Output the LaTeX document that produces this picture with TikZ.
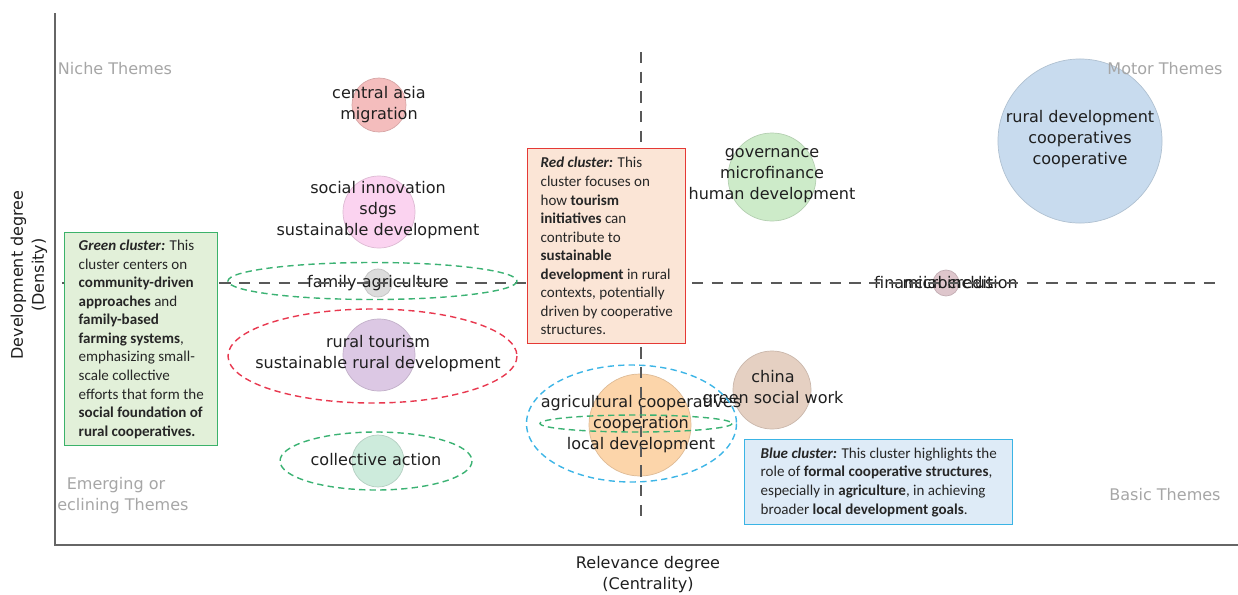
\documentclass[tikz,border=0pt]{standalone}
\usepackage{fontspec}
\setmainfont{DejaVu Sans}
\newfontfamily\notefont{Carlito}

\definecolor{bubblered}{HTML}{F4BDBD}
\definecolor{bubblepink}{HTML}{FBD3F0}
\definecolor{bubblegray}{HTML}{DCDCDC}
\definecolor{bubblepurple}{HTML}{DCC8E4}
\definecolor{bubblemint}{HTML}{CDEBDC}
\definecolor{bubblegreen}{HTML}{CDEBC9}
\definecolor{bubbleblue}{HTML}{C8DBEE}
\definecolor{bubblemauve}{HTML}{DEC6CC}
\definecolor{bubblebrown}{HTML}{E5D0C2}
\definecolor{bubbleorange}{HTML}{FCD5AA}
\definecolor{ringgreen}{HTML}{3BB273}
\definecolor{ringred}{HTML}{E8384F}
\definecolor{ringblue}{HTML}{3DB5E6}
\definecolor{greenfill}{HTML}{E2F0D9}
\definecolor{greenedge}{HTML}{3BB26A}
\definecolor{redfill}{HTML}{FBE5D6}
\definecolor{rededge}{HTML}{E53935}
\definecolor{bluefill}{HTML}{DEEBF7}
\definecolor{blueedge}{HTML}{3AB4E5}
\definecolor{quadgray}{HTML}{A6A6A6}

\tikzset{
	bubble/.style 2 args={circle,fill=#1,draw=#1!88!black,line width=0.5pt,minimum size=#2*0.05cm,inner sep=0pt},
	term/.style={align=center,font=\fontsize{11.4}{15}\selectfont,text=black!88},
	quadrant/.style={align=center,font=\fontsize{11.4}{15}\selectfont,text=quadgray},
	ring/.style={draw=#1,line width=1pt,dash pattern=on 4.5pt off 3pt},
	crossline/.style={draw=black!65,line width=1.1pt,dash pattern=on 8pt off 6pt},
	notebox/.style 2 args={draw=#2,fill=#1,line width=1pt,anchor=north west,align=left,
		font=\notefont\fontsize{10.7}{13.2}\selectfont,text=black!85}
}

\begin{document}
\begin{tikzpicture}[x=0.025cm,y=-0.025cm]
	\useasboundingbox (0,0) rectangle (1238,594);
	% axes
	\draw[black!60,line width=1pt] (55,13) -- (55,545) -- (1238,545);
	\node[term,rotate=90] (ytitle) at (29,275) {Development degree\\(Density)};
	\node[term] (xtitle) at (648,575) {Relevance degree\\(Centrality)};
	% bubbles
	\node[bubble={bubblered}{27}] (asia) at (379,105) {};
	\node[bubble={bubblepink}{36}] (sdgs) at (379,212) {};
	\node[bubble={bubblegray}{14}] (family) at (378,283) {};
	\node[bubble={bubblepurple}{36}] (tourism) at (379,355) {};
	\node[bubble={bubblemint}{26}] (collective) at (378,461) {};
	\node[bubble={bubblegreen}{44}] (governance) at (772,177) {};
	\node[bubble={bubbleblue}{82}] (rural) at (1080,141) {};
	\node[bubble={bubblemauve}{13}] (financial) at (946,283) {};
	\node[bubble={bubblebrown}{39}] (china) at (772,390) {};
	\node[bubble={bubbleorange}{51}] (agri) at (640,425) {};
	% quadrant names
	\node[quadrant] (niche) at (115,69) {Niche Themes};
	\node[quadrant] (motor) at (1165,69) {Motor Themes};
	\node[quadrant] (basic) at (1165,495) {Basic Themes};
	\node[quadrant] (emerging) at (116,485) {Emerging or};
	\node[quadrant,anchor=west,inner xsep=0pt] (declining) at (57,506) {eclining Themes};
	% bubble labels
	\node[term] (asialabel) at (379,104.5) {central asia\\migration};
	\node[term] (sdgslabel) at (378,210) {social innovation\\sdgs\\sustainable development};
	\node[term] (familylabel) at (378,283) {family agriculture};
	\node[term] (tourismlabel) at (378,353.5) {rural tourism\\sustainable rural development};
	\node[term] (collectivelabel) at (376,460) {collective action};
	\node[term] (governancelabel) at (772,176) {governance\\microfinance\\human development};
	\node[term] (rurallabel) at (1080,139) {rural development\\cooperatives\\cooperative};
	\node[term] (financiallabel) at (946,283) {financial inclusion};
	\node[term] (microlabel) at (948,283) {microcredit};
	\node[term] (chinalabel) at (773,388.5) {china\\green social work};
	\node[term] (agrilabel) at (641,424) {agricultural cooperatives\\cooperation\\local development};
	% quadrant split lines
	\coordinate (vtop) at (641,52);
	\coordinate (vbottom) at (641,520);
	\coordinate (hleft) at (62,283);
	\coordinate (hright) at (1222,283);
	\draw[crossline] (vtop) -- (vbottom);
	\draw[crossline] (hleft) -- (hright);
	% cluster rings
	\draw[ring=ringgreen] (372.5,281) ellipse [x radius=144.5,y radius=18.5];
	\draw[ring=ringred] (372.5,356) ellipse [x radius=144.5,y radius=47];
	\draw[ring=ringgreen] (376,461) ellipse [x radius=96,y radius=29];
	\draw[ring=ringblue] (631.5,423.5) ellipse [x radius=105,y radius=58.5];
	\draw[ring=ringgreen] (636,423.5) ellipse [x radius=96,y radius=8.5];
	% notes
	\node[notebox={greenfill}{greenedge},minimum width=3.825cm,minimum height=5.325cm] (greennote) at (64,232)
		{\textbf{\textit{Green cluster:}} This\\cluster centers on\\\textbf{community-driven}\\\textbf{approaches} and\\\textbf{family-based}\\\textbf{farming systems},\\emphasizing small-\\scale collective\\efforts that form the\\\textbf{social foundation of}\\\textbf{rural cooperatives.}};
	\node[notebox={redfill}{rededge},minimum width=3.95cm,minimum height=4.875cm] (rednote) at (527,148)
		{\textbf{\textit{Red cluster:}} This\\cluster focuses on\\how \textbf{tourism}\\\textbf{initiatives} can\\contribute to\\\textbf{sustainable}\\\textbf{development} in rural\\contexts, potentially\\driven by cooperative\\structures.};
	\node[notebox={bluefill}{blueedge},minimum width=6.7cm,minimum height=2.125cm] (bluenote) at (744,439)
		{\textbf{\textit{Blue cluster:}} This cluster highlights the\\role of \textbf{formal cooperative structures},\\especially in \textbf{agriculture}, in achieving\\broader \textbf{local development goals}.};
\end{tikzpicture}
\end{document}
